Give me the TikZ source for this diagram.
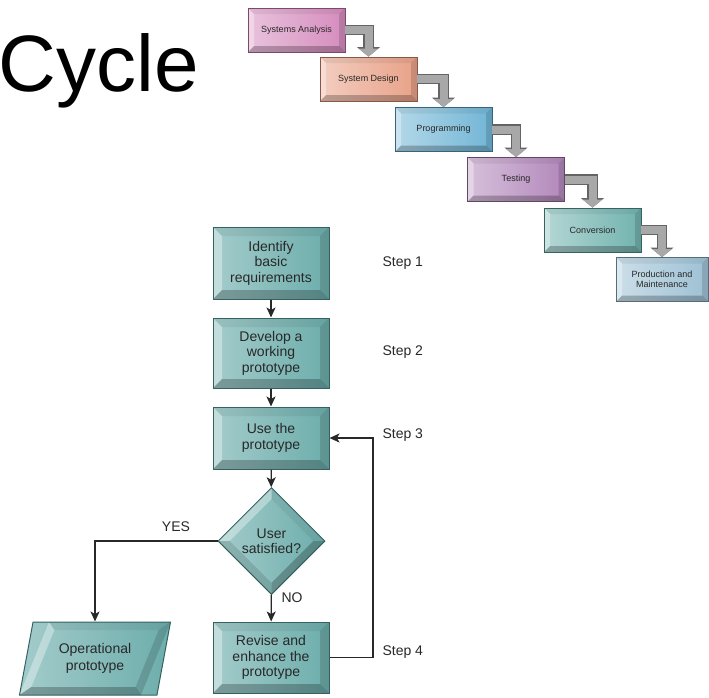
\documentclass[tikz,border=0pt]{standalone}
\usepackage{fontspec}
\setmainfont{Liberation Sans}
\usetikzlibrary{arrows.meta,shapes.geometric}

\definecolor{flowteal}{RGB}{88,162,160}
\definecolor{anapink}{RGB}{206,120,178}
\definecolor{dessalmon}{RGB}{228,145,115}
\definecolor{progblue}{RGB}{88,168,206}
\definecolor{testpurple}{RGB}{165,115,175}
\definecolor{convteal}{RGB}{88,165,160}
\definecolor{prodblue}{RGB}{140,182,205}
\definecolor{arrowgray}{RGB}{168,168,168}
\definecolor{arrowedge}{RGB}{100,100,100}
\definecolor{inkgray}{RGB}{40,40,40}

\tikzset{
  rectbevel/.style={path picture={
      \coordinate (pnw) at (path picture bounding box.north west);
      \coordinate (pne) at (path picture bounding box.north east);
      \coordinate (psw) at (path picture bounding box.south west);
      \coordinate (pse) at (path picture bounding box.south east);
      \coordinate (qnw) at ([shift={(#1,-#1)}]pnw);
      \coordinate (qne) at ([shift={(-#1,-#1)}]pne);
      \coordinate (qsw) at ([shift={(#1,#1)}]psw);
      \coordinate (qse) at ([shift={(-#1,#1)}]pse);
      \fill[black,opacity=.06] (pnw) -- (pne) -- (qne) -- (qnw) -- cycle;
      \fill[white,opacity=.35] (pnw) -- (qnw) -- (qsw) -- (psw) -- cycle;
      \fill[black,opacity=.14] (pne) -- (pse) -- (qse) -- (qne) -- cycle;
      \fill[black,opacity=.24] (psw) -- (pse) -- (qse) -- (qsw) -- cycle;
  }},
  diabevel/.style={path picture={
      \coordinate (pn) at (path picture bounding box.north);
      \coordinate (pe) at (path picture bounding box.east);
      \coordinate (ps) at (path picture bounding box.south);
      \coordinate (pw) at (path picture bounding box.west);
      \coordinate (qn) at ([yshift=-#1*1.414]pn);
      \coordinate (qe) at ([xshift=-#1*1.414]pe);
      \coordinate (qs) at ([yshift=#1*1.414]ps);
      \coordinate (qw) at ([xshift=#1*1.414]pw);
      \fill[white,opacity=.35] (pw) -- (pn) -- (qn) -- (qw) -- cycle;
      \fill[black,opacity=.06] (pn) -- (pe) -- (qe) -- (qn) -- cycle;
      \fill[black,opacity=.24] (pe) -- (ps) -- (qs) -- (qe) -- cycle;
      \fill[black,opacity=.12] (ps) -- (pw) -- (qw) -- (qs) -- cycle;
  }},
  % slant of 29.5pt = 73pt / tan(68)
  parabevel/.style={path picture={
      \coordinate (pnw) at ([xshift=29.5pt]path picture bounding box.north west);
      \coordinate (pne) at (path picture bounding box.north east);
      \coordinate (psw) at (path picture bounding box.south west);
      \coordinate (pse) at ([xshift=-29.5pt]path picture bounding box.south east);
      \coordinate (qnw) at ([shift={(5.4pt,-8pt)}]pnw);
      \coordinate (qne) at ([shift={(-11.8pt,-8pt)}]pne);
      \coordinate (qsw) at ([shift={(11.8pt,8pt)}]psw);
      \coordinate (qse) at ([shift={(-5.4pt,8pt)}]pse);
      \fill[black,opacity=.06] (pnw) -- (pne) -- (qne) -- (qnw) -- cycle;
      \fill[white,opacity=.35] (pnw) -- (qnw) -- (qsw) -- (psw) -- cycle;
      \fill[black,opacity=.14] (pne) -- (pse) -- (qse) -- (qne) -- cycle;
      \fill[black,opacity=.24] (psw) -- (pse) -- (qse) -- (qsw) -- cycle;
  }},
  fallbox/.style={rectangle, draw=#1!60!black, line width=.8pt,
    left color=#1!45!white, right color=#1!85!white, rectbevel=6pt,
    minimum width=97pt, minimum height=44pt, inner sep=2pt, align=center,
    font=\fontsize{9}{10.5}\selectfont, text=inkgray},
  flowbox/.style={rectangle, draw=flowteal!60!black, line width=1pt,
    left color=flowteal!55!white, right color=flowteal!88!white, rectbevel=9pt,
    minimum width=116pt, inner sep=2pt, align=center,
    font=\fontsize{14}{15.5}\selectfont, text=inkgray},
  bigarrow/.style={line width=8pt, draw=arrowgray, -{Triangle[width=19pt,length=8pt]},
    preaction={draw=arrowedge, line width=10.5pt, -{Triangle[width=22.5pt,length=9.5pt]}}},
  flow/.style={draw=inkgray, line width=1.2pt, -{Stealth[length=10pt,width=9pt,inset=2.5pt]}},
  lbl/.style={font=\fontsize{14}{16}\selectfont, text=inkgray}
}

\begin{document}
\begin{tikzpicture}[x=1pt, y=-1pt]
  \useasboundingbox (0,0) rectangle (709,697);

  \node[anchor=base east, inner sep=0, font=\fontsize{80}{80}\selectfont] (title) at (199,91) {Cycle};

  % waterfall
  \node[fallbox=anapink] (ana) at (296.5,30) {Systems Analysis};
  \node[fallbox=dessalmon] (des) at (368.5,79) {System Design};
  \node[fallbox=progblue] (prog) at (443.5,129.5) {Programming};
  \node[fallbox=testpurple] (test) at (516,179.5) {Testing};
  \node[fallbox=convteal] (conv) at (592.5,230) {Conversion};
  \node[fallbox=prodblue, minimum width=92pt] (prod) at (662,279.5) {Production and\\Maintenance};
  \foreach \a/\b in {ana/des, des/prog, prog/test, test/conv, conv/prod}
    \draw[bigarrow] (\a.east) -| (\b.north);

  % prototyping
  \node[flowbox, minimum height=72pt] (ident) at (271,263) {Identify\\basic\\requirements};
  \node[flowbox, minimum height=70pt] (dev) at (271,353) {Develop a\\working\\prototype};
  \node[flowbox, minimum height=62pt] (use) at (271,438) {Use the\\prototype};
  \node[diamond, aspect=1, minimum size=107pt, inner sep=0, draw=flowteal!60!black, line width=1pt,
    left color=flowteal!55!white, right color=flowteal!88!white, diabevel=8pt, align=center,
    font=\fontsize{14}{15.5}\selectfont, text=inkgray] (sat) at (271.5,541) {User\\satisfied?};
  \node[flowbox, minimum height=71pt] (rev) at (271,657.5) {Revise and\\enhance the\\prototype};
  \node[trapezium, trapezium left angle=68, trapezium right angle=112, trapezium stretches body,
    minimum height=73pt, minimum width=151pt, inner sep=2pt, draw=flowteal!60!black, line width=1pt,
    left color=flowteal!55!white, right color=flowteal!88!white, parabevel, align=center,
    font=\fontsize{14}{16.5}\selectfont, text=inkgray] (op) at (95,658.5) {Operational\\prototype};

  \coordinate (back) at (373,550);
  \draw[flow] (ident) -- (dev);
  \draw[flow] (dev) -- (use);
  \draw[flow] (use) -- (sat);
  \draw[flow] (sat) -- (rev);
  \draw[flow] (sat.west) -| (op.north);
  \draw[flow] (rev.east) -| (back) |- (use.east);

  \node[lbl] (yes) at (176,527) {YES};
  \node[lbl] (no) at (292,598) {NO};
  \node[lbl, anchor=west] (s1) at (379,263) {Step 1};
  \node[lbl, anchor=west] (s2) at (379,352) {Step 2};
  \node[lbl, anchor=west] (s3) at (379,435) {Step 3};
  \node[lbl, anchor=west] (s4) at (379,652) {Step 4};
\end{tikzpicture}
\end{document}
